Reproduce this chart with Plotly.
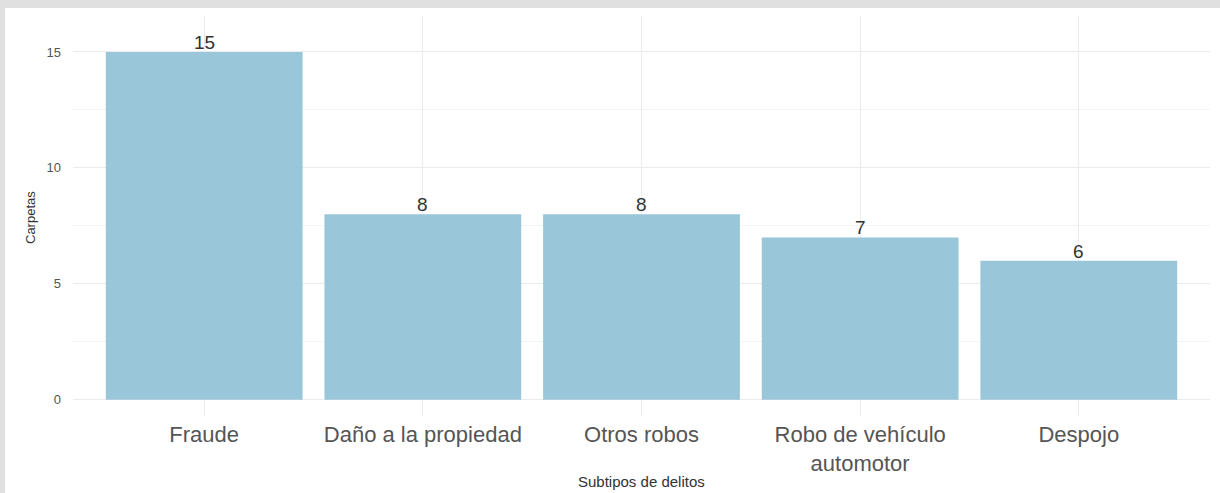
import plotly.graph_objects as go

categories = ["Fraude", "Daño a la propiedad", "Otros robos", "Robo de vehículo<br>automotor", "Despojo"]
values = [15, 8, 8, 7, 6]
y_ticks = [0, 5, 10, 15]

bar_color = "#9AC6D9"
FONT = "Arial"

W, H = 1220, 493
L, R, T, B = 73, 10, 16, 77
pw, ph = W - L - R, H - T - B

def px_x(x):
    return (x - L) / pw

def px_y(y):
    return (H - B - y) / ph

fig = go.Figure()
fig.add_trace(go.Bar(
    x=list(range(len(categories))), y=values, width=0.9,
    marker=dict(color=bar_color, line=dict(width=0)),
    hoverinfo="skip",
))
for i, v in enumerate(values):
    fig.add_annotation(x=i, y=v, text=str(v), showarrow=False, yanchor="bottom",
                       yshift=-3, font=dict(family=FONT, size=19, color="#333333"))

# axis titles
fig.add_annotation(xref="paper", yref="paper", x=px_x(641), y=px_y(481), text="Subtipos de delitos",
                   showarrow=False, xanchor="center", yanchor="middle",
                   font=dict(family=FONT, size=15, color="#333333"))
fig.add_annotation(xref="paper", yref="paper", x=px_x(30), y=px_y(218), text="Carpetas",
                   showarrow=False, textangle=-90, xanchor="center", yanchor="middle",
                   font=dict(family=FONT, size=13, color="#333333"))

# background frame
fig.add_shape(type="rect", xref="paper", yref="paper", x0=px_x(5), x1=px_x(1225), y0=px_y(500), y1=px_y(8),
              fillcolor="white", line=dict(width=0), layer="below")

fig.update_layout(
    width=W, height=H,
    margin=dict(l=L, r=R, t=T, b=B, autoexpand=False),
    paper_bgcolor="#E0E0E0", plot_bgcolor="rgba(0,0,0,0)",
    showlegend=False,
    font=dict(family=FONT, color="#4D4D4D"),
    bargap=0.1,
)
fig.update_xaxes(
    range=[-0.6, 4.6], tickmode="array", tickvals=list(range(len(categories))), ticktext=categories,
    tickfont=dict(family=FONT, size=22, color="#555555"), showgrid=True, gridcolor="#EBEBEB", gridwidth=1,
    zeroline=False, showline=False, ticks="", ticklen=0, automargin=False, ticklabelstandoff=3,
)
fig.update_yaxes(
    range=[-0.7, 16.55], tickmode="array", tickvals=y_ticks, ticktext=[str(t) for t in y_ticks],
    tickfont=dict(family=FONT, size=13, color="#555555"), showgrid=True, gridcolor="#EBEBEB", gridwidth=1,
    minor=dict(tickvals=[2.5, 7.5, 12.5], showgrid=True, gridcolor="#F4F4F4", gridwidth=1),
    zeroline=False, showline=False, ticks="", ticklen=0, ticklabelstandoff=11, automargin=False,
)

fig.write_html("out.html", config={"displayModeBar": False},
               post_script="document.body.style.margin='0';document.body.style.overflow='hidden';")
